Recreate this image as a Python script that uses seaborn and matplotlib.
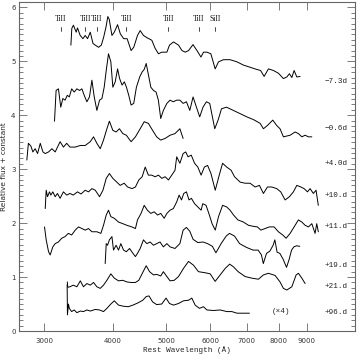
import numpy as np
import pandas as pd
import matplotlib
matplotlib.use("Agg")
import matplotlib.pyplot as plt
import seaborn as sns
from matplotlib.ticker import FixedLocator, MultipleLocator, NullLocator

# ---------------- data ----------------
epochs = ["−7.3d", "−0.6d", "+4.0d", "+10.d", "+11.d", "+19.d", "+21.d", "+96.d"]
epoch_label_y = [4.63, 3.76, 3.11, 2.52, 1.93, 1.22, 0.83, 0.35]

wave_m73 = [3354,3367,3390,3429,3448,3487,3527,3561,3596,3637,3679,3714,3766,3809,3847,3885,3914,3937,3982,4021,
            4077,4124,4182,4243,4314,4362,4431,4481,4543,4607,4705,4770,4837,4905,5010,5065,5151,5260,5336,5410,
            5486,5588,5681,5777,5840,5922,6021,6131,6216,6346,6527,6717,6900,7095,7291,7414,7523,7660,7821,7986,
            8155,8272,8362,8447,8528,8625,8745]
flux_m73 = [5.30,5.61,5.67,5.54,5.62,5.48,5.42,5.48,5.42,5.54,5.33,5.30,5.26,5.30,5.45,5.64,5.83,5.78,5.48,5.54,
            5.68,5.51,5.42,5.42,5.20,5.26,5.48,5.57,5.48,5.44,5.39,5.24,5.14,5.17,5.17,5.30,5.36,5.30,5.20,5.17,
            5.20,5.31,5.20,5.08,5.17,5.17,5.14,4.86,4.99,5.03,5.03,4.99,4.93,4.89,4.85,4.83,4.72,4.86,4.83,4.78,
            4.68,4.71,4.77,4.70,4.83,4.71,4.72]

wave_m06 = [3132,3153,3184,3215,3243,3273,3304,3332,3365,3401,3439,3478,3512,3546,3586,3625,3662,3698,3739,3781,
            3819,3855,3888,3925,3964,3997,4037,4077,4112,4154,4194,4231,4272,4314,4362,4411,4472,4516,4557,4595,
            4640,4685,4737,4789,4835,4883,4937,5010,5077,5147,5218,5290,5362,5437,5514,5590,5669,5747,5827,5910,
            5993,6077,6120,6206,6295,6429,6614,6806,6998,7194,7399,7501,7628,7800,7930,8040,8155,8387,8564,8683,
            8808,8929,9054,9183]
flux_m06 = [3.89,4.46,4.49,4.15,4.31,4.28,4.37,4.34,4.49,4.43,4.49,4.46,4.49,4.37,4.25,4.34,4.65,4.34,4.09,4.28,
            4.31,4.52,4.83,5.14,4.99,4.52,4.62,4.86,4.68,4.56,4.62,4.52,4.37,4.19,4.22,4.52,4.71,4.80,4.85,4.96,
            4.74,4.52,4.46,4.43,4.28,3.94,4.09,4.22,4.28,4.25,4.28,4.28,4.22,4.25,4.09,4.34,4.15,3.97,4.15,4.25,
            4.22,3.91,3.75,3.91,4.12,4.15,4.09,4.03,3.97,3.92,3.85,3.75,3.81,3.91,3.81,3.75,3.60,3.63,3.69,3.66,
            3.60,3.63,3.60,3.60]

wave_p40 = [2790,2808,2837,2861,2889,2918,2951,2984,3013,3055,3098,3141,3206,3251,3296,3341,3415,3489,3561,3637,
            3687,3739,3792,3844,3899,3940,3997,4052,4109,4167,4229,4314,4393,4481,4557,4637,4720,4800,4881,4973,
            5077,5183,5290,5362]
flux_p40 = [3.17,3.48,3.43,3.32,3.38,3.29,3.48,3.32,3.29,3.32,3.38,3.32,3.51,3.41,3.48,3.41,3.41,3.44,3.44,3.51,
            3.60,3.48,3.38,3.54,3.75,3.89,3.72,3.69,3.75,3.66,3.63,3.51,3.60,3.75,3.88,3.85,3.72,3.60,3.54,3.57,
            3.63,3.66,3.75,3.57]

wave_p10 = [3013,3025,3042,3067,3085,3110,3141,3171,3206,3251,3296,3341,3387,3448,3499,3561,3610,3662,3714,3781,
            3835,3888,3940,3997,4064,4121,4191,4251,4332,4393,4455,4518,4576,4637,4702,4770,4837,4905,4973,5043,
            5113,5183,5220,5290,5362,5421,5473,5548,5625,5702,5781,5860,5940,6024,6133,6236,6324,6433,6554,6648,
            6806,6948,7095,7245,7377,7501,7628,7768,7930,8063,8213,8362,8503,8625,8771,8892,9017,9117,9243,9347,
            9436]
flux_p10 = [2.27,2.61,2.49,2.58,2.52,2.58,2.49,2.55,2.46,2.58,2.52,2.55,2.52,2.58,2.54,2.61,2.58,2.64,2.61,2.49,
            2.61,2.83,2.92,2.83,2.76,2.70,2.74,2.67,2.64,2.67,2.80,2.86,3.04,2.89,2.89,2.86,2.89,2.83,2.86,2.80,
            2.89,2.98,3.23,3.11,3.29,3.32,3.23,3.26,3.11,3.04,2.89,3.04,3.07,2.92,2.61,2.89,3.11,3.04,2.98,2.86,
            2.76,2.74,2.74,2.67,2.70,2.55,2.67,2.67,2.64,2.58,2.43,2.49,2.58,2.70,2.67,2.64,2.58,2.64,2.55,2.61,
            2.33]

wave_p11 = [3004,3025,3055,3076,3110,3141,3183,3228,3273,3318,3365,3415,3463,3512,3561,3610,3662,3739,3802,3844,
            3888,3925,3964,4021,4093,4167,4238,4328,4393,4431,4497,4557,4618,4685,4751,4819,4883,4954,5010,5077,
            5147,5218,5274,5326,5376,5437,5496,5551,5625,5702,5781,5821,5902,5984,6052,6133,6217,6324,6433,6525,
            6620,6741,6900,7046,7194,7316,7420,7554,7691,7844,7986,8132,8248,8387,8528,8683,8808,8929,9054,9183,
            9309,9374,9436]
flux_p11 = [1.93,1.69,1.47,1.41,1.56,1.62,1.65,1.72,1.75,1.81,1.78,1.87,1.93,1.90,1.87,1.90,1.84,1.84,1.81,1.96,
            2.15,2.24,2.12,2.09,2.02,1.99,1.96,1.93,1.90,2.06,2.18,2.33,2.24,2.18,2.21,2.15,2.18,2.09,2.18,2.24,
            2.27,2.39,2.52,2.43,2.55,2.58,2.43,2.46,2.36,2.30,2.24,2.36,2.33,2.15,1.99,1.87,2.12,2.33,2.30,2.24,
            2.15,2.06,2.02,1.96,1.94,1.93,1.87,1.90,1.93,1.93,1.84,1.78,1.72,1.81,1.93,2.06,2.02,1.96,1.93,1.99,
            1.81,1.99,1.84]

wave_p19 = [3871,3888,3909,3940,3982,4008,4052,4093,4133,4180,4229,4286,4347,4393,4431,4481,4543,4607,4671,4737,
            4800,4868,4937,5010,5077,5183,5290,5362,5437,5514,5590,5702,5827,5940,6060,6150,6285,6420,6510,6648,
            6790,6987,7183,7336,7440,7497,7599,7704,7812,7868,7943,8033,8146,8262,8354,8437,8520,8616,8734]
flux_p19 = [1.25,1.62,1.59,1.69,1.75,1.50,1.59,1.50,1.62,1.50,1.47,1.53,1.44,1.38,1.44,1.53,1.69,1.62,1.65,1.59,
            1.62,1.65,1.56,1.62,1.56,1.53,1.62,1.87,1.92,1.85,1.70,1.64,1.65,1.62,1.57,1.45,1.62,1.76,1.81,1.76,
            1.62,1.55,1.50,1.50,1.41,1.25,1.44,1.48,1.59,1.69,1.46,1.44,1.33,1.18,1.33,1.50,1.56,1.58,1.57]

wave_p21 = [3304,3311,3341,3387,3439,3489,3535,3586,3637,3687,3739,3792,3844,3899,3964,4021,4093,4167,4238,4310,
            4393,4455,4537,4595,4660,4737,4800,4883,4937,5010,5077,5166,5260,5297,5370,5484,5600,5717,5880,6004,
            6131,6260,6393,6514,6618,6749,6948,7146,7346,7501,7660,7876,8040,8155,8272,8447,8600,8683,8808,8929]
flux_p21 = [0.91,0.81,0.82,0.85,0.82,0.93,0.82,0.88,0.85,0.90,0.82,0.79,0.85,0.94,1.06,0.98,0.93,0.94,0.91,0.90,
            0.90,0.94,1.10,1.21,1.10,1.04,1.05,1.02,1.10,1.01,0.93,0.94,1.01,1.06,1.16,1.29,1.22,1.10,1.08,1.06,
            0.92,1.04,1.16,1.24,1.19,1.10,1.01,0.98,0.96,1.04,1.07,1.03,0.91,0.79,0.76,0.82,1.04,1.07,0.98,0.88]

wave_p96 = [3302,3306,3320,3332,3365,3401,3439,3489,3535,3586,3637,3714,3781,3844,3899,3964,4021,4093,4174,4262,
            4347,4437,4529,4597,4650,4719,4800,4903,4993,5065,5151,5260,5370,5484,5561,5639,5741,5838,5922,6087,
            6260,6438,6574,6717,6900,7075]
flux_p96 = [0.86,0.30,0.50,0.42,0.36,0.39,0.34,0.37,0.36,0.39,0.37,0.40,0.39,0.36,0.42,0.50,0.56,0.48,0.46,0.45,
            0.48,0.52,0.57,0.64,0.65,0.54,0.49,0.50,0.61,0.51,0.48,0.51,0.56,0.57,0.61,0.48,0.42,0.45,0.39,0.38,
            0.39,0.36,0.36,0.33,0.33,0.33]

line_names = ["TiII", "TiII", "TiII", "TiII", "TiII", "TiII", "SiII"]
line_waves = [3217, 3561, 3740, 4227, 5039, 5729, 6125]

xtick_values = [3000, 4000, 5000, 6000, 7000, 8000, 9000]
xtick_labels = ["3000", "4000", "5000", "6000", "7000", "8000", "9000"]

# ---------------- figure ----------------
sns.set_style("ticks")
plt.rcParams["font.family"] = ["DejaVu Sans"]

fig = plt.figure(figsize=(3.6, 3.55), dpi=100)
ax = fig.add_axes([19 / 360, 24 / 355, 336 / 360, 329 / 355])

spectra = [(wave_m73, flux_m73), (wave_m06, flux_m06), (wave_p40, flux_p40), (wave_p10, flux_p10),
           (wave_p11, flux_p11), (wave_p19, flux_p19), (wave_p21, flux_p21), (wave_p96, flux_p96)]
frames = []
for ep, (w, f) in zip(epochs, spectra):
    frames.append(pd.DataFrame({"wave": w, "flux": f, "epoch": ep}))
df = pd.concat(frames, ignore_index=True)

for ep in epochs:
    sub = df[df["epoch"] == ep]
    sns.lineplot(data=sub, x="wave", y="flux", ax=ax, color="black", lw=0.7,
                 estimator=None, sort=False, legend=False)

ax.set_xscale("log")
ax.set_xlim(2700, 11000)
ax.set_ylim(0, 6.1)
ax.xaxis.set_major_locator(FixedLocator(xtick_values))
ax.set_xticklabels(xtick_labels)
ax.xaxis.set_minor_locator(NullLocator())
ax.yaxis.set_major_locator(MultipleLocator(1))
ax.yaxis.set_minor_locator(MultipleLocator(0.1))

edge = "#666666"
for s in ax.spines.values():
    s.set_color(edge)
    s.set_linewidth(0.8)
ax.tick_params(which="both", direction="in", top=True, right=True, color=edge, width=0.6,
               labelsize=5, labelcolor="#333333")
ax.tick_params(which="major", length=6)
ax.tick_params(which="minor", length=3)
ax.tick_params(axis="x", pad=5)
ax.tick_params(axis="y", pad=2.5)

ax.set_xlabel("Rest Wavelength (Å)", family="Liberation Mono", fontsize=5.5, color="#222222", labelpad=1.5)
ax.set_ylabel("Relative flux + constant", fontsize=5.3, color="#222222", labelpad=3)

for lab, yv in zip(epochs, epoch_label_y):
    ax.text(10650, yv, lab, ha="right", va="center", fontsize=5.5, family="Liberation Mono", color="#222222")
ax.text(8077, 0.36, "(×4)", ha="center", va="center", fontsize=5.5, family="Liberation Mono", color="#222222")

for name, lw_ in zip(line_names, line_waves):
    ax.text(lw_, 5.78, name, ha="center", va="center", fontsize=5.5, family="Liberation Serif", color="#111111")
    ax.plot([lw_, lw_], [5.56, 5.64], color="black", lw=0.5)

fig.savefig("out.png", dpi=100)
